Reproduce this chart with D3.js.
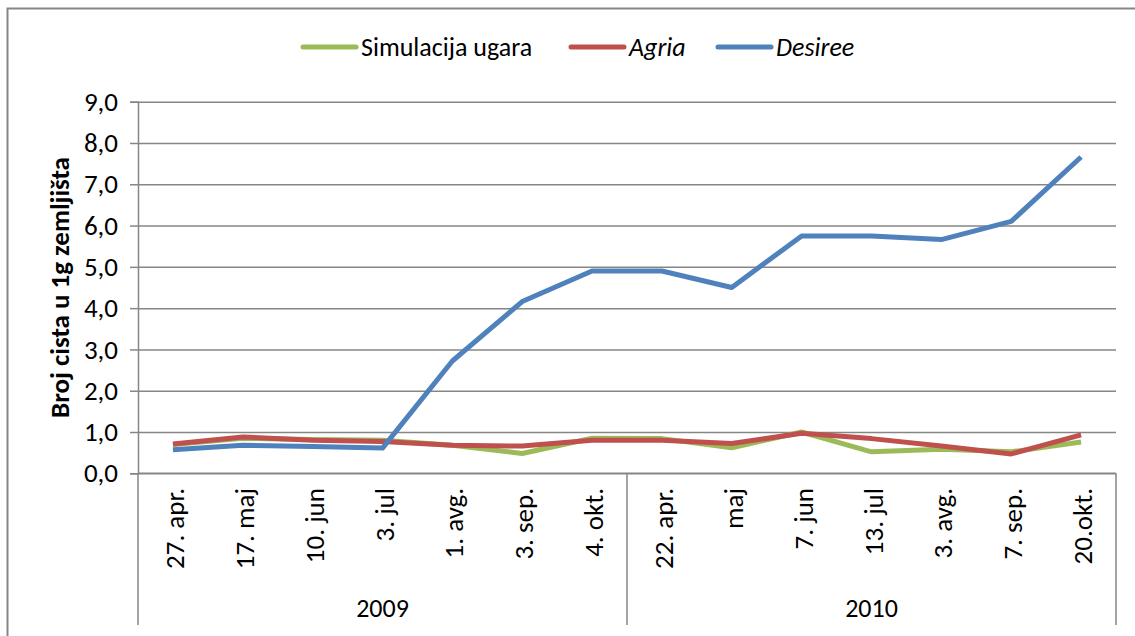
<!DOCTYPE html>
<html>
<head>
<meta charset="utf-8">
<script src="https://cdn.jsdelivr.net/npm/d3@7"></script>
<style>
  body { margin: 0; background: #fff; }
  svg { display: block; }
</style>
</head>
<body>
<svg id="chart" width="1135" height="636"></svg>
<script>
// categories (two-level axis: dates grouped by year)
const dates = ['27. apr.', '17. maj', '10. jun', '3. jul', '1. avg.', '3. sep.', '4. okt.',
               '22. apr.', 'maj', '7. jun', '13. jul', '3. avg.', '7. sep.', '20.okt.'];
const years = ['2009', '2010'];
const perYear = [7, 7];
const yTicks = [0, 1, 2, 3, 4, 5, 6, 7, 8, 9];

// series values
const simulacija = [0.70, 0.85, 0.82, 0.80, 0.68, 0.48, 0.85, 0.84, 0.62, 1.00, 0.52, 0.58, 0.52, 0.76];
const agria      = [0.71, 0.88, 0.80, 0.77, 0.68, 0.66, 0.80, 0.80, 0.72, 0.97, 0.84, 0.66, 0.47, 0.93];
const desiree    = [0.57, 0.68, 0.65, 0.61, 2.72, 4.16, 4.90, 4.90, 4.50, 5.75, 5.75, 5.66, 6.10, 7.66];

const series = [
    {name: 'Simulacija ugara', values: simulacija, color: '#9BBB59', italic: false},
    {name: 'Agria', values: agria, color: '#C0504D', italic: true},
    {name: 'Desiree', values: desiree, color: '#4F81BD', italic: true}
];

const svg = d3.select('#chart');
const plotL = 138, plotR = 1116, plotT = 101.7, plotB = 473.3;
const gray = '#868686';
const labelFont = 'Carlito, Lato, sans-serif';

// outer frame
svg.append('path')
    .attr('d', 'M7.5,640 V8.5 H1140')
    .attr('fill', 'none').attr('stroke', gray).attr('stroke-width', 2);

const x = d3.scaleBand().domain(d3.range(dates.length)).range([plotL, plotR]);
const y = d3.scaleLinear().domain([0, 9]).range([plotB, plotT]);

// grid lines + y axis
const yAxis = d3.axisLeft(y).tickValues(yTicks).tickSize(8)
    .tickFormat(d => d3.format('.1f')(d).replace('.', ','));
const gy = svg.append('g').attr('transform', `translate(${plotL},0)`).call(yAxis);
gy.select('.domain').attr('stroke', gray).attr('stroke-width', 1.5);
gy.selectAll('.tick line').attr('stroke', gray).attr('stroke-width', 1.5);
gy.selectAll('.tick').append('line')
    .attr('x1', 0).attr('x2', plotR - plotL)
    .attr('stroke', gray).attr('stroke-width', 1.5);
gy.selectAll('.tick text')
    .attr('x', -20)
    .style('font-family', labelFont)
    .style('font-size', '27px').attr('fill', '#000');

// y axis title
svg.append('text')
    .attr('transform', `translate(69,${(plotT + plotB) / 2}) rotate(-90)`)
    .attr('text-anchor', 'middle')
    .style('font-family', labelFont)
    .style('font-size', '27px').style('font-weight', 'bold')
    .text('Broj cista u 1g zemljišta');

// x axis (categories)
const gx = svg.append('g');
gx.append('line').attr('x1', plotL).attr('x2', plotR).attr('y1', plotB).attr('y2', plotB)
    .attr('stroke', gray).attr('stroke-width', 1.5);
gx.selectAll('text.cat').data(dates).join('text')
    .attr('class', 'cat')
    .attr('transform', (d, i) => `translate(${x(i) + x.bandwidth() / 2 + 11},488) rotate(-90)`)
    .attr('text-anchor', 'end')
    .style('font-family', labelFont)
    .style('font-size', '27px')
    .text(d => d);

// year groups
let start = 0;
const groups = years.map((yr, k) => {
    const g = {year: yr, from: start, to: start + perYear[k]};
    start += perYear[k];
    return g;
});
const bounds = [0].concat(groups.map(g => g.to));
gx.selectAll('line.sep').data(bounds).join('line')
    .attr('class', 'sep')
    .attr('x1', d => d < dates.length ? x(d) : plotR)
    .attr('x2', d => d < dates.length ? x(d) : plotR)
    .attr('y1', plotB).attr('y2', 625)
    .attr('stroke', gray).attr('stroke-width', 1.5);
gx.selectAll('text.year').data(groups).join('text')
    .attr('class', 'year')
    .attr('x', g => (x(g.from) + (g.to < dates.length ? x(g.to) : plotR)) / 2)
    .attr('y', 617)
    .attr('text-anchor', 'middle')
    .style('font-family', labelFont)
    .style('font-size', '26px')
    .text(g => g.year);

// lines
const line = d3.line()
    .x((d, i) => x(i) + x.bandwidth() / 2)
    .y(d => y(d));
svg.selectAll('path.series').data(series).join('path')
    .attr('class', 'series')
    .attr('d', s => line(s.values))
    .attr('fill', 'none')
    .attr('stroke', s => s.color)
    .attr('stroke-width', 5)
    .attr('stroke-linejoin', 'round');

// legend
const legendX = [303, 571, 718];
const leg = svg.selectAll('g.legend').data(series).join('g')
    .attr('class', 'legend')
    .attr('transform', (s, i) => `translate(${legendX[i]},47)`);
leg.append('line').attr('x1', 0).attr('x2', 53)
    .attr('stroke', s => s.color).attr('stroke-width', 5).attr('stroke-linecap', 'round');
leg.append('text').attr('x', 58).attr('y', 9)
    .style('font-family', labelFont)
    .style('font-size', '26px')
    .style('font-style', s => s.italic ? 'italic' : 'normal')
    .text(s => s.name);
</script>
</body>
</html>
